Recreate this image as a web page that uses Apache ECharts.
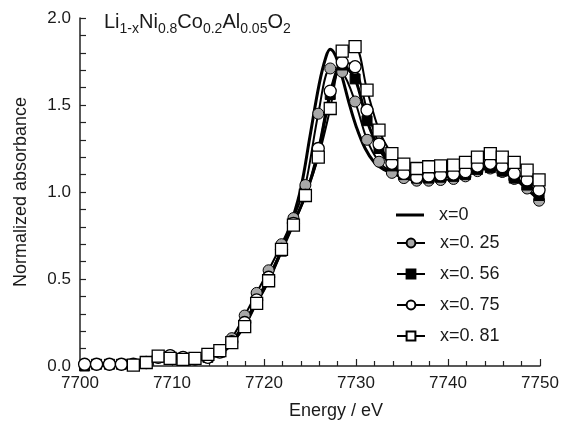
<!DOCTYPE html>
<html>
<head>
<meta charset="utf-8">
<script src="https://cdn.jsdelivr.net/npm/echarts@6/dist/echarts.min.js"></script>
<style>html,body{margin:0;padding:0;background:#fff}#c{width:562px;height:426px}</style>
</head>
<body>
<div id="c"></div>
<script>
// Marker energies (eV), shared by the marked series
const energies = [7700.5,7701.8,7703.2,7704.5,7705.8,7707.2,7708.5,7709.8,7711.2,7712.5,
  7713.9,7715.2,7716.5,7717.9,7719.2,7720.5,7721.9,7723.2,7724.5,7725.9,
  7727.2,7728.5,7729.9,7731.2,7732.5,7733.9,7735.2,7736.6,7737.9,7739.2,
  7740.6,7741.9,7743.2,7744.6,7745.9,7747.2,7748.6,7749.9];

// x = 0 (solid line)
const energiesX0 = [7700,7702,7704,7706,7708,7709.5,7711,7713,7714.5,7716,7717,7718,7719,7720,7721,7722,
  7723,7724,7725,7726,7726.7,7727.2,7727.8,7728.5,7729.2,7730,7731,7732,7733,7734,7736,7738,7740,7742,
  7744,7745.5,7747,7748.5,7750];
const absX0 = [0.0,0.0,0.005,0.01,0.03,0.05,0.05,0.05,0.06,0.10,0.17,0.26,0.35,0.44,0.55,0.68,
  0.83,1.02,1.32,1.62,1.77,1.82,1.78,1.66,1.52,1.38,1.25,1.17,1.13,1.11,1.10,1.10,1.11,1.13,
  1.15,1.14,1.09,1.02,0.95];

const absX025 = [0.01,0.01,0.01,0.01,0.01,0.02,0.05,0.06,0.05,0.04,
  0.05,0.08,0.16,0.29,0.42,0.55,0.70,0.85,1.04,1.45,
  1.71,1.69,1.52,1.30,1.174,1.11,1.08,1.065,1.065,1.069,
  1.075,1.09,1.12,1.135,1.115,1.075,1.02,0.95];

const absX056 = [0.0,0.01,0.01,0.01,0.01,0.02,0.05,0.05,0.04,0.04,
  0.05,0.08,0.13,0.24,0.37,0.50,0.66,0.82,0.98,1.22,
  1.56,1.73,1.65,1.41,1.25,1.15,1.10,1.08,1.08,1.085,
  1.09,1.10,1.13,1.14,1.12,1.08,1.04,0.98];

const absX075 = [0.01,0.01,0.01,0.01,0.01,0.02,0.05,0.06,0.05,0.04,
  0.05,0.08,0.14,0.25,0.38,0.51,0.67,0.82,0.98,1.25,
  1.58,1.745,1.72,1.47,1.276,1.165,1.107,1.084,1.092,1.098,
  1.103,1.117,1.149,1.165,1.145,1.107,1.069,1.011];

const absX081 = [null,null,null,null,0.005,0.02,0.057,0.044,0.038,0.044,
  0.067,0.088,0.134,0.226,0.36,0.49,0.67,0.81,0.98,1.20,
  1.48,1.81,1.835,1.586,1.356,1.22,1.16,1.135,1.145,1.15,
  1.155,1.17,1.20,1.22,1.20,1.17,1.126,1.07];

const seriesNames = ['x=0','x=0. 25','x=0. 56','x=0. 75','x=0. 81'];
const xTicks = [7700, 7710, 7720, 7730, 7740, 7750];

const FONT = 'Liberation Sans';
const TXT = '#1a1a1a';

function pairs(xs, ys){ return xs.map((x,i)=>[x, ys[i]]); }

const chart = echarts.init(document.getElementById('c'), null, {renderer:'canvas'});

const marked = (name, ys, symbol, size, fill, lw, bw) => ({
  name, type:'line', data: pairs(energies, ys), smooth: 0.3,
  symbol, symbolSize: size, showAllSymbol: true, connectNulls: false,
  lineStyle:{color:'#000', width: lw},
  itemStyle:{color: fill, borderColor:'#000', borderWidth: bw},
  emphasis:{disabled:true}
});

const legendText = {fontFamily:FONT, fontSize:18, color:TXT, lineHeight:20, padding:[0,0,0,10]};

chart.setOption({
  animation:false,
  textStyle:{fontFamily:FONT},
  grid:{left:80, right:22, top:18, bottom:60, containLabel:false, outerBoundsMode:'none'},
  title:{
    left:99, top:5,
    text:'{a|Li}{s|1-x}{a|Ni}{s|0.8}{a|Co}{s|0.2}{a|Al}{s|0.05}{a|O}{s|2}',
    textStyle:{
      fontWeight:'normal',
      rich:{
        a:{fontFamily:FONT, fontSize:20, fontWeight:'normal', color:TXT, lineHeight:22, verticalAlign:'bottom'},
        s:{fontFamily:FONT, fontSize:14, fontWeight:'normal', color:TXT, lineHeight:14, verticalAlign:'bottom', padding:[0,0,-4,0]}
      }
    }
  },
  legend:[{
    orient:'vertical', left:391, top:200,
    itemWidth:28, itemHeight:3, icon:'rect',
    data:[seriesNames[0]],
    textStyle:legendText, selectedMode:false
  },{
    orient:'vertical', left:391, top:228,
    itemWidth:28, itemHeight:11, itemGap:11,
    data: seriesNames.slice(1),
    textStyle:legendText, selectedMode:false
  }],
  xAxis:{
    type:'value', min:xTicks[0], max:xTicks[xTicks.length-1], interval:10,
    name:'Energy / eV', nameLocation:'middle', nameGap:36,
    nameTextStyle:{fontFamily:FONT, fontSize:18, color:TXT, padding:[0,0,0,52]},
    axisLine:{lineStyle:{color:'#222', width:1.5}},
    axisTick:{inside:true, length:7, lineStyle:{color:'#222', width:1.2}},
    minorTick:{show:true, splitNumber:5, length:5, lineStyle:{color:'#222', width:1.2}},
    axisLabel:{fontFamily:FONT, fontSize:17, color:TXT, margin:9, formatter:v=>String(v)},
    splitLine:{show:false}
  },
  yAxis:{
    type:'value', min:0, max:2, interval:0.5,
    name:'Normalized absorbance', nameLocation:'middle', nameGap:50,
    nameTextStyle:{fontFamily:FONT, fontSize:18, color:TXT},
    axisLine:{show:true, lineStyle:{color:'#222', width:1.5}},
    axisTick:{show:true, inside:true, length:6, lineStyle:{color:'#222', width:1.2}},
    minorTick:{show:true, splitNumber:5, length:6, lineStyle:{color:'#222', width:1.2}},
    axisLabel:{fontFamily:FONT, fontSize:17, color:TXT, margin:9, formatter:v=>v.toFixed(1)},
    splitLine:{show:false}
  },
  series:[
    {name:seriesNames[0], type:'line', data:pairs(energiesX0, absX0), smooth:0.4, symbol:'none',
     lineStyle:{color:'#000', width:3}, itemStyle:{color:'#000'}, emphasis:{disabled:true}},
    marked(seriesNames[1], absX025, 'circle', 11, '#a8a8a8', 2, 1),
    marked(seriesNames[2], absX056, 'rect', 10, '#000', 3, 1),
    marked(seriesNames[3], absX075, 'circle', 12, '#fff', 2, 1.3),
    marked(seriesNames[4], absX081, 'rect', 12, '#fff', 2, 1.3)
  ]
});
</script>
</body>
</html>
